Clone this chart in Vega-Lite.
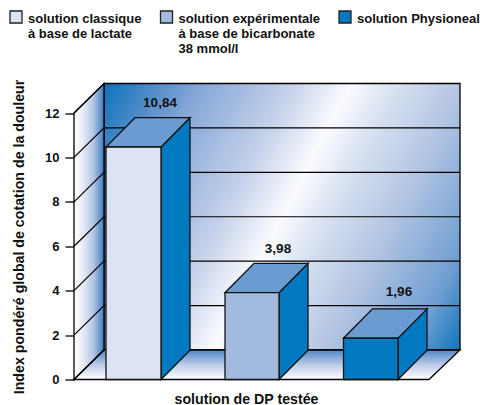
{
  "$schema": "https://vega.github.io/schema/vega-lite/v6.json",
  "width": 386,
  "height": 296,
  "autosize": "none",
  "padding": {"left": 74, "top": 83.5, "right": 20, "bottom": 25.5},
  "background": "white",
  "config": {"font": "Liberation Sans", "view": {"stroke": null}},
  "datasets": {
    "back": [
      {"x": 30, "y": 1.33, "y2": 13.33},
      {"x": 386, "y": 1.33, "y2": 13.33}
    ],
    "left": [
      {"x": 0, "y": 0, "y2": 12},
      {"x": 30, "y": 1.33, "y2": 13.33}
    ],
    "floor": [
      {"x": 0, "y": 0, "y2": 0},
      {"x": 30, "y": 0, "y2": 1.33},
      {"x": 355, "y": 0, "y2": 1.33},
      {"x": 386, "y": 1.33, "y2": 1.33}
    ],
    "grid": [
      {"v": 0, "x": 0, "y": 0}, {"v": 0, "x": 30, "y": 1.33}, {"v": 0, "x": 386, "y": 1.33},
      {"v": 2, "x": 0, "y": 2}, {"v": 2, "x": 30, "y": 3.33}, {"v": 2, "x": 386, "y": 3.33},
      {"v": 4, "x": 0, "y": 4}, {"v": 4, "x": 30, "y": 5.33}, {"v": 4, "x": 386, "y": 5.33},
      {"v": 6, "x": 0, "y": 6}, {"v": 6, "x": 30, "y": 7.33}, {"v": 6, "x": 386, "y": 7.33},
      {"v": 8, "x": 0, "y": 8}, {"v": 8, "x": 30, "y": 9.33}, {"v": 8, "x": 386, "y": 9.33},
      {"v": 10, "x": 0, "y": 10}, {"v": 10, "x": 30, "y": 11.33}, {"v": 10, "x": 386, "y": 11.33},
      {"v": 12, "x": 0, "y": 12}, {"v": 12, "x": 30, "y": 13.33}, {"v": 12, "x": 386, "y": 13.33}
    ],
    "sides": [
      {"bar": "a", "x": 87, "y": 0, "y2": 10.47},
      {"bar": "a", "x": 116, "y": 1.32, "y2": 11.79},
      {"bar": "b", "x": 205, "y": 0, "y2": 3.91},
      {"bar": "b", "x": 234, "y": 1.32, "y2": 5.23},
      {"bar": "c", "x": 324, "y": 0, "y2": 1.86},
      {"bar": "c", "x": 353, "y": 1.32, "y2": 3.18}
    ],
    "tops": [
      {"bar": "a", "x": 32, "y": 10.47, "y2": 10.47},
      {"bar": "a", "x": 61, "y": 10.47, "y2": 11.79},
      {"bar": "a", "x": 87, "y": 10.47, "y2": 11.79},
      {"bar": "a", "x": 116, "y": 11.79, "y2": 11.79},
      {"bar": "b", "x": 151, "y": 3.91, "y2": 3.91},
      {"bar": "b", "x": 180, "y": 3.91, "y2": 5.23},
      {"bar": "b", "x": 205, "y": 3.91, "y2": 5.23},
      {"bar": "b", "x": 234, "y": 5.23, "y2": 5.23},
      {"bar": "c", "x": 269.5, "y": 1.86, "y2": 1.86},
      {"bar": "c", "x": 298.5, "y": 1.86, "y2": 3.18},
      {"bar": "c", "x": 324, "y": 1.86, "y2": 3.18},
      {"bar": "c", "x": 353, "y": 3.18, "y2": 3.18}
    ],
    "fronts": [
      {"solution": "solution classique à base de lactate", "x": 32, "x2": 87, "y": 0, "y2": 10.47},
      {"solution": "solution expérimentale à base de bicarbonate 38 mmol/l", "x": 151, "x2": 205, "y": 0, "y2": 3.91},
      {"solution": "solution Physioneal", "x": 269.5, "x2": 324, "y": 0, "y2": 1.86}
    ],
    "labels": [
      {"label": "10,84", "x": 86, "y": 12.45},
      {"label": "3,98", "x": 204, "y": 5.88},
      {"label": "1,96", "x": 325, "y": 3.93}
    ]
  },
  "layer": [
    {
      "data": {"name": "back"},
      "mark": {"type": "area", "stroke": "black", "strokeWidth": 1.3, "fill": {"gradient": "linear", "x1": 0, "y1": 0, "x2": 1.207, "y2": 0.47, "stops": [
        {"offset": 0, "color": "#0c72ba"},
        {"offset": 0.12, "color": "#5a90cb"},
        {"offset": 0.2, "color": "#86a8d8"},
        {"offset": 0.38, "color": "#c5d1ea"},
        {"offset": 0.5, "color": "#fafbfe"},
        {"offset": 0.6, "color": "#d5dff0"},
        {"offset": 0.72, "color": "#b5c6e3"},
        {"offset": 0.9, "color": "#6f9ed2"},
        {"offset": 1, "color": "#0f75bb"}
      ]}},
      "encoding": {
        "x": {"field": "x", "type": "quantitative", "scale": {"domain": [0, 386], "nice": false}, "axis": {"title": "solution de DP testée", "labels": false, "ticks": false, "domain": false, "grid": false, "titleFont": "Liberation Sans", "titleFontSize": 14.2, "titleFontWeight": "bold", "titleColor": "#111", "titleX": 172, "titleY": 19.5, "titleBaseline": "middle", "titleAnchor": "middle"}},
        "y": {"field": "y", "type": "quantitative", "scale": {"domain": [0, 13.33], "nice": false}, "axis": {"title": "Index pondéré global de cotation de la douleur", "values": [0, 2, 4, 6, 8, 10, 12], "domain": false, "grid": false, "tickColor": "black", "tickSize": 9, "tickWidth": 1.3, "labelFont": "Liberation Sans", "labelFontSize": 13, "labelFontWeight": "bold", "labelColor": "#111", "labelPadding": 6, "titleFont": "Liberation Sans", "titleFontSize": 14.2, "titleFontWeight": "bold", "titleColor": "#111", "titleX": -55, "titleY": 153, "titleBaseline": "middle", "titleAnchor": "middle"}},
        "y2": {"field": "y2"}
      }
    },
    {
      "data": {"name": "left"},
      "mark": {"type": "area", "stroke": "black", "strokeWidth": 1.3, "fill": {"gradient": "linear", "x1": 0, "y1": 0, "x2": 1, "y2": 0, "stops": [
        {"offset": 0, "color": "#ffffff"},
        {"offset": 0.3, "color": "#e6ebf6"},
        {"offset": 0.65, "color": "#b3c5e4"},
        {"offset": 1, "color": "#3e7cc0"}
      ]}},
      "encoding": {
        "x": {"field": "x", "type": "quantitative", "scale": {"domain": [0, 386], "nice": false}},
        "y": {"field": "y", "type": "quantitative", "scale": {"domain": [0, 13.33], "nice": false}},
        "y2": {"field": "y2"}
      }
    },
    {
      "data": {"name": "floor"},
      "mark": {"type": "area", "stroke": "black", "strokeWidth": 1.3, "fill": {"gradient": "linear", "x1": 0, "y1": 0, "x2": 0, "y2": 1, "stops": [
        {"offset": 0, "color": "#4f86c6"},
        {"offset": 0.5, "color": "#bccbe7"},
        {"offset": 1, "color": "#ffffff"}
      ]}},
      "encoding": {
        "x": {"field": "x", "type": "quantitative", "scale": {"domain": [0, 386], "nice": false}},
        "y": {"field": "y", "type": "quantitative", "scale": {"domain": [0, 13.33], "nice": false}},
        "y2": {"field": "y2"}
      }
    },
    {
      "data": {"name": "grid"},
      "mark": {"type": "line", "stroke": "black", "strokeWidth": 1.2},
      "encoding": {
        "x": {"field": "x", "type": "quantitative", "scale": {"domain": [0, 386], "nice": false}},
        "y": {"field": "y", "type": "quantitative", "scale": {"domain": [0, 13.33], "nice": false}},
        "detail": {"field": "v", "type": "nominal"}
      }
    },
    {
      "data": {"name": "sides"},
      "mark": {"type": "area", "fill": "#0079c1", "stroke": "#111", "strokeWidth": 1.3},
      "encoding": {
        "x": {"field": "x", "type": "quantitative", "scale": {"domain": [0, 386], "nice": false}},
        "y": {"field": "y", "type": "quantitative", "scale": {"domain": [0, 13.33], "nice": false}},
        "y2": {"field": "y2"},
        "detail": {"field": "bar", "type": "nominal"}
      }
    },
    {
      "data": {"name": "tops"},
      "mark": {"type": "area", "fill": "#6a9bd1", "stroke": "#111", "strokeWidth": 1.3},
      "encoding": {
        "x": {"field": "x", "type": "quantitative", "scale": {"domain": [0, 386], "nice": false}},
        "y": {"field": "y", "type": "quantitative", "scale": {"domain": [0, 13.33], "nice": false}},
        "y2": {"field": "y2"},
        "detail": {"field": "bar", "type": "nominal"}
      }
    },
    {
      "data": {"name": "fronts"},
      "mark": {"type": "rect", "stroke": "#111", "strokeWidth": 1.3},
      "encoding": {
        "x": {"field": "x", "type": "quantitative", "scale": {"domain": [0, 386], "nice": false}},
        "x2": {"field": "x2"},
        "y": {"field": "y", "type": "quantitative", "scale": {"domain": [0, 13.33], "nice": false}},
        "y2": {"field": "y2"},
        "fill": {
          "field": "solution",
          "type": "nominal",
          "sort": null,
          "scale": {"domain": ["solution classique à base de lactate", "solution expérimentale à base de bicarbonate 38 mmol/l", "solution Physioneal"], "range": ["#dce3f2", "#a3badf", "#0079c1"]},
          "legend": {
            "title": null,
            "orient": "none",
            "legendX": -65,
            "legendY": -77.5,
            "columns": 3,
            "columnPadding": 15.5,
            "padding": 0,
            "symbolType": "M-1,-0.33H1V1.67H-1Z",
            "symbolSize": 144,
            "symbolStrokeColor": "#222",
            "symbolStrokeWidth": 1.3,
            "labelFont": "Liberation Sans",
            "labelFontSize": 13,
            "labelFontWeight": "bold",
            "labelColor": "#111",
            "labelLimit": 300,
            "labelOffset": 5,
            "labelBaseline": "top",
            "labelExpr": "indexof(datum.label,'lactate')>0 ? ['solution classique','à base de lactate',''] : indexof(datum.label,'bicarbonate')>0 ? ['solution expérimentale','à base de bicarbonate','38 mmol/l'] : ['solution Physioneal','','']"
          }
        }
      }
    },
    {
      "data": {"name": "labels"},
      "mark": {"type": "text", "font": "Liberation Sans", "fontSize": 13.5, "fontWeight": "bold", "color": "#111"},
      "encoding": {
        "x": {"field": "x", "type": "quantitative", "scale": {"domain": [0, 386], "nice": false}},
        "y": {"field": "y", "type": "quantitative", "scale": {"domain": [0, 13.33], "nice": false}},
        "text": {"field": "label"}
      }
    }
  ]
}
